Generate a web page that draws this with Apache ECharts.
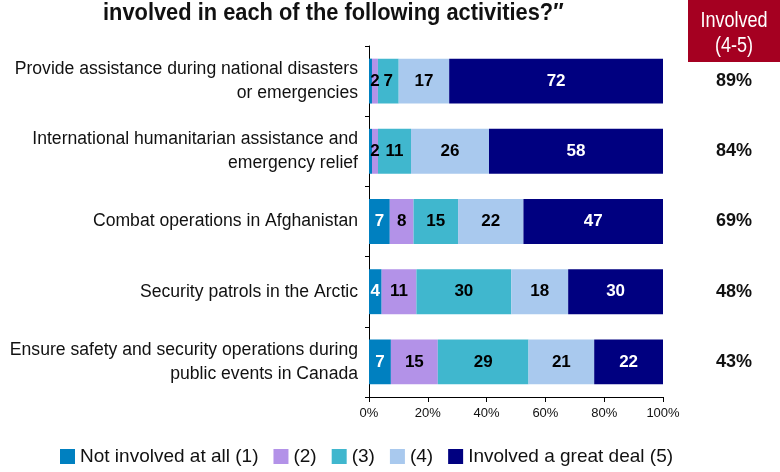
<!DOCTYPE html>
<html><head><meta charset="utf-8">
<script src="https://cdn.jsdelivr.net/npm/echarts@6/dist/echarts.min.js"></script>
<style>html,body{margin:0;padding:0;background:#fff}#c{width:780px;height:472px}</style>
</head><body><div id="c"></div>
<script>
const categories = [
  "Provide assistance during national disasters\nor emergencies",
  "International humanitarian assistance and\nemergency relief",
  "Combat operations in Afghanistan",
  "Security patrols in the Arctic",
  "Ensure safety and security operations during\npublic events in Canada"
];
const seriesNames = ["Not involved at all (1)", "(2)", "(3)", "(4)", "Involved a great deal (5)"];
const notInvolved = [1, 1, 7, 4, 7];
const level2 = [2, 2, 8, 11, 15];
const level3 = [7, 11, 15, 30, 29];
const level4 = [17, 26, 22, 18, 21];
const greatDeal = [72, 58, 47, 30, 22];
const involvedLabels = ["89%", "84%", "69%", "48%", "43%"];
const xTicks = [0, 20, 40, 60, 80, 100];

const colors = ["#0080C0", "#B392E8", "#40B7CE", "#A9C9EE", "#000080"];
const labelColors = ["#fff", "#000", "#000", "#000", "#fff"];
const SANS = "'Liberation Sans',Arial,sans-serif";
const raw = [notInvolved, level2, level3, level4, greatDeal];
const totals = categories.map((_, i) => raw.reduce((s, a) => s + a[i], 0));

const series = raw.map((arr, k) => ({
  name: seriesNames[k],
  type: "bar",
  stack: "all",
  barCategoryGap: "36%",
  itemStyle: { color: colors[k] },
  data: arr.map((v, i) => ({ value: v / totals[i] * 100, raw: v })),
  label: {
    show: true,
    position: "inside",
    color: labelColors[k],
    fontFamily: SANS,
    fontWeight: "bold",
    fontSize: 17,
    formatter: p => (p.data.raw >= 2 ? String(p.data.raw) : "")
  }
}));

const chart = echarts.init(document.getElementById("c"), null, { renderer: "canvas" });
chart.setOption({
  animation: false,
  grid: { left: 369, right: 117, top: 46, bottom: 75, containLabel: false, outerBoundsMode: "none" },
  legend: {
    bottom: 1, left: 55,
    itemWidth: 15, itemHeight: 15, itemGap: 15,
    icon: "rect",
    textStyle: { fontFamily: SANS, fontSize: 19, color: "#111" },
    data: seriesNames
  },
  xAxis: {
    type: "value", min: 0, max: 100, interval: 20,
    axisLine: { show: true, lineStyle: { color: "#000", width: 1 } },
    axisTick: { show: true, length: 5, lineStyle: { color: "#000" } },
    splitLine: { show: false },
    axisLabel: { formatter: v => (xTicks.includes(v) ? v + "%" : ""), fontFamily: SANS, fontSize: 13, color: "#111", margin: 10 }
  },
  yAxis: [{
    type: "category", inverse: true, data: categories,
    axisLine: { show: true, lineStyle: { color: "#000", width: 1 } },
    axisTick: { show: true, length: 4, lineStyle: { color: "#000" } },
    axisLabel: { fontFamily: SANS, fontSize: 17.6, lineHeight: 24, color: "#111", margin: 11, align: "right" }
  }, {
    type: "category", inverse: true, data: involvedLabels, position: "right",
    axisLine: { show: false }, axisTick: { show: false },
    axisLabel: { fontFamily: SANS, fontWeight: "bold", fontSize: 18, color: "#111", margin: 53, align: "left" }
  }],
  series: series,
  graphic: [
    { type: "text", x: 103, y: 1, scaleX: 0.91, style: { text: "involved in each of the following activities?\u2033", font: "bold 24px " + SANS, fill: "#111" } },
    { type: "rect", x: 688, y: 0, shape: { width: 92, height: 62 }, style: { fill: "#A50021" } },
    { type: "text", x: 734, y: 8, scaleX: 0.82, style: { text: "Involved\n(4-5)", font: "22px " + SANS, fill: "#fff", align: "center", lineHeight: 25 } }
  ]
});
</script></body></html>
